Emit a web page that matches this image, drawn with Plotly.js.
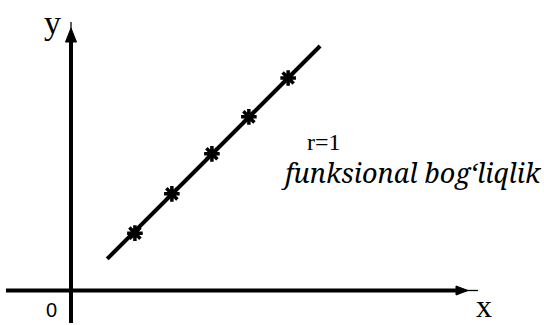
<!DOCTYPE html>
<html>
<head>
<meta charset="utf-8">
<script src="https://cdn.plot.ly/plotly-3.0.1.min.js"></script>
<style>html,body{margin:0;padding:0;background:#fff}#chart{width:544px;height:325px}</style>
</head>
<body>
<div id="chart"></div>
<script>
// Data (axis units)
const pointsX = [1.66, 2.62, 3.66, 4.62, 5.64];
const pointsY = [1.49, 2.51, 3.55, 4.51, 5.52];
const lineX = [0.94, 6.47];
const lineY = [0.82, 6.35];
const axisLabelX = "x";
const axisLabelY = "y";
const originLabel = "0";
const corrLabel = "r=1";
const relationLabel = "funksional bog\u2018liqlik";

const W = 544, H = 325;
const OX = 71, OY = 290.5, UNIT = 38.5;
const px = v => v / W;          // pixel -> paper x
const py = v => 1 - v / H;      // pixel -> paper y

const traces = [
  {x: lineX, y: lineY, mode: 'lines', line: {color: '#000', width: 4}, hoverinfo: 'skip'},
  {x: pointsX, y: pointsY, mode: 'markers',
   marker: {symbol: 'asterisk-open', size: 13, color: '#000', line: {color: '#000', width: 3.5}},
   hoverinfo: 'skip'}
];

const shapes = [
  // x axis
  {type: 'line', xref: 'paper', yref: 'paper', x0: px(6), x1: px(460), y0: py(OY), y1: py(OY), line: {color: '#000', width: 4}},
  {type: 'path', xref: 'paper', yref: 'paper', path: `M ${px(456)} ${py(OY - 4.5)} L ${px(468)} ${py(OY)} L ${px(456)} ${py(OY + 4.5)} Z`, fillcolor: '#000', line: {color: '#000', width: 1}},
  {type: 'line', xref: 'paper', yref: 'paper', x0: px(462), x1: px(478), y0: py(OY), y1: py(OY), line: {color: '#000', width: 1.3}},
  // y axis
  {type: 'line', xref: 'paper', yref: 'paper', x0: px(OX), x1: px(OX), y0: py(323), y1: py(38), line: {color: '#000', width: 4}},
  {type: 'path', xref: 'paper', yref: 'paper', path: `M ${px(OX - 5.5)} ${py(42)} L ${px(OX)} ${py(28)} L ${px(OX + 5.5)} ${py(42)} Z`, fillcolor: '#000', line: {color: '#000', width: 1}},
  {type: 'line', xref: 'paper', yref: 'paper', x0: px(OX), x1: px(OX), y0: py(34), y1: py(22), line: {color: '#000', width: 1.3}}
];

const serif = '"Liberation Serif", "Times New Roman", serif';
const ann = (text, x, y, size, family) => ({
  text: text, xref: 'paper', yref: 'paper', x: px(x), y: py(y),
  xanchor: 'center', yanchor: 'middle', showarrow: false,
  font: {family: family, size: size, color: '#000'}
});
const annotations = [
  ann(axisLabelY, 52, 22, 34, serif),
  ann(axisLabelX, 484, 306, 32, serif),
  ann(originLabel, 51, 310, 20, '"Liberation Sans", Arial, sans-serif'),
  ann(corrLabel, 324, 142, 24, serif),
  ann('<i>' + relationLabel + '</i>', 411, 173, 27, '"Noto Serif", serif')
];

const layout = {
  width: W, height: H,
  margin: {l: 0, r: 0, t: 0, b: 0},
  paper_bgcolor: '#fff', plot_bgcolor: '#fff',
  showlegend: false,
  xaxis: {range: [-OX / UNIT, (W - OX) / UNIT], visible: false, fixedrange: true},
  yaxis: {range: [-(H - OY) / UNIT, OY / UNIT], visible: false, fixedrange: true},
  shapes: shapes,
  annotations: annotations
};

Plotly.newPlot('chart', traces, layout, {staticPlot: true, displayModeBar: false});
</script>
</body>
</html>
